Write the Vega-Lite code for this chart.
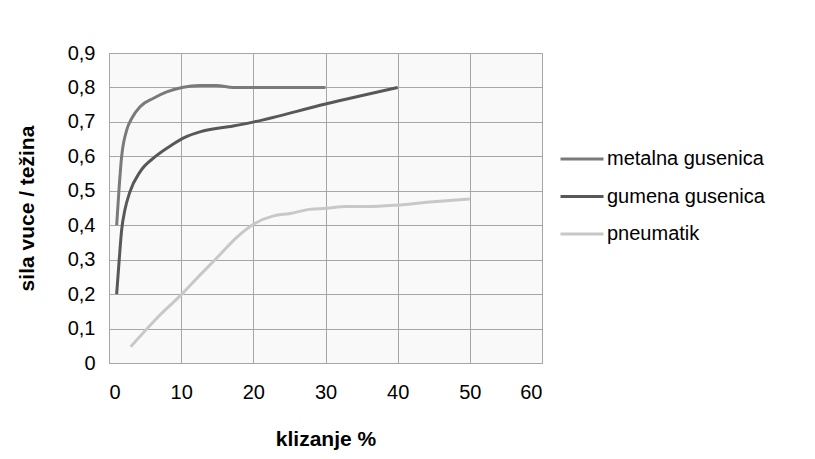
{
  "$schema": "https://vega.github.io/schema/vega-lite/v6.json",
  "autosize": {"type": "none"},
  "width": 433,
  "height": 310,
  "padding": {"left": 109, "top": 53, "right": 273, "bottom": 96},
  "background": "#ffffff",
  "config": {
    "font": "Liberation Sans",
    "view": {"fill": "#f9f9f9", "stroke": "#a6a6a6", "strokeWidth": 1}
  },
  "data": {
    "values": [
      {"serija": "metalna gusenica", "x": 1.06, "y": 0.4},
      {"serija": "metalna gusenica", "x": 1.38, "y": 0.502},
      {"serija": "metalna gusenica", "x": 1.75, "y": 0.599},
      {"serija": "metalna gusenica", "x": 2.45, "y": 0.676},
      {"serija": "metalna gusenica", "x": 3.2, "y": 0.712},
      {"serija": "metalna gusenica", "x": 4.3, "y": 0.744},
      {"serija": "metalna gusenica", "x": 6.1, "y": 0.768},
      {"serija": "metalna gusenica", "x": 8.0, "y": 0.787},
      {"serija": "metalna gusenica", "x": 10.1, "y": 0.8},
      {"serija": "metalna gusenica", "x": 12.6, "y": 0.806},
      {"serija": "metalna gusenica", "x": 14.9, "y": 0.806},
      {"serija": "metalna gusenica", "x": 17.2, "y": 0.8},
      {"serija": "metalna gusenica", "x": 20.0, "y": 0.8},
      {"serija": "metalna gusenica", "x": 30.0, "y": 0.8},
      {"serija": "gumena gusenica", "x": 1.06, "y": 0.2},
      {"serija": "gumena gusenica", "x": 1.38, "y": 0.29},
      {"serija": "gumena gusenica", "x": 1.75, "y": 0.386},
      {"serija": "gumena gusenica", "x": 2.2, "y": 0.444},
      {"serija": "gumena gusenica", "x": 2.9, "y": 0.497},
      {"serija": "gumena gusenica", "x": 4.3, "y": 0.555},
      {"serija": "gumena gusenica", "x": 6.4, "y": 0.599},
      {"serija": "gumena gusenica", "x": 8.7, "y": 0.633},
      {"serija": "gumena gusenica", "x": 10.5, "y": 0.655},
      {"serija": "gumena gusenica", "x": 12.6, "y": 0.671},
      {"serija": "gumena gusenica", "x": 17.2, "y": 0.688},
      {"serija": "gumena gusenica", "x": 20.1, "y": 0.7},
      {"serija": "gumena gusenica", "x": 30.0, "y": 0.752},
      {"serija": "gumena gusenica", "x": 40.0, "y": 0.8},
      {"serija": "pneumatik", "x": 3.0, "y": 0.047},
      {"serija": "pneumatik", "x": 7.1, "y": 0.14},
      {"serija": "pneumatik", "x": 10.1, "y": 0.2},
      {"serija": "pneumatik", "x": 12.6, "y": 0.255},
      {"serija": "pneumatik", "x": 14.9, "y": 0.304},
      {"serija": "pneumatik", "x": 17.7, "y": 0.365},
      {"serija": "pneumatik", "x": 20.2, "y": 0.405},
      {"serija": "pneumatik", "x": 22.8, "y": 0.427},
      {"serija": "pneumatik", "x": 25.1, "y": 0.434},
      {"serija": "pneumatik", "x": 27.8, "y": 0.446},
      {"serija": "pneumatik", "x": 30.1, "y": 0.449},
      {"serija": "pneumatik", "x": 32.9, "y": 0.454},
      {"serija": "pneumatik", "x": 35.7, "y": 0.454},
      {"serija": "pneumatik", "x": 39.8, "y": 0.458},
      {"serija": "pneumatik", "x": 44.9, "y": 0.468},
      {"serija": "pneumatik", "x": 50.0, "y": 0.476}
    ]
  },
  "mark": {"type": "line", "strokeWidth": 3, "interpolate": "monotone"},
  "encoding": {
    "x": {
      "field": "x", "type": "quantitative",
      "scale": {"domain": [0, 60], "nice": false},
      "axis": {
        "title": "klizanje %", "values": [0, 10, 20, 30, 40, 50, 60],
        "grid": true, "gridColor": "#a6a6a6", "gridOpacity": 1,
        "domain": true, "domainColor": "#a6a6a6", "ticks": false,
        "labelFontSize": 20, "labelColor": "#000000", "labelPadding": 19,
        "titleFontSize": 21, "titleFontWeight": "bold", "titleColor": "#000000", "titlePadding": 26
      }
    },
    "y": {
      "field": "y", "type": "quantitative",
      "scale": {"domain": [0, 0.9], "nice": false},
      "axis": {
        "title": "sila vuce / težina", "values": [0, 0.1, 0.2, 0.3, 0.4, 0.5, 0.6, 0.7, 0.8, 0.9],
        "labelExpr": "datum.value == 0 ? '0' : replace(format(datum.value, '.1f'), '.', ',')",
        "grid": true, "gridColor": "#a6a6a6", "gridOpacity": 1,
        "domain": true, "domainColor": "#a6a6a6", "ticks": false,
        "labelFontSize": 20, "labelColor": "#000000", "labelPadding": 14,
        "titleFontSize": 21, "titleFontWeight": "bold", "titleColor": "#000000", "titlePadding": 30
      }
    },
    "color": {
      "field": "serija", "type": "nominal",
      "scale": {
        "domain": ["metalna gusenica", "gumena gusenica", "pneumatik"],
        "range": ["#7a7a7a", "#585858", "#c8c8c8"]
      },
      "legend": {
        "title": null, "orient": "none", "legendX": 450, "legendY": 83,
        "symbolType": "stroke", "symbolSize": 1849, "symbolStrokeWidth": 3,
        "labelFontSize": 20, "labelColor": "#000000", "labelOffset": 2,
        "rowPadding": 4.5
      }
    }
  }
}
